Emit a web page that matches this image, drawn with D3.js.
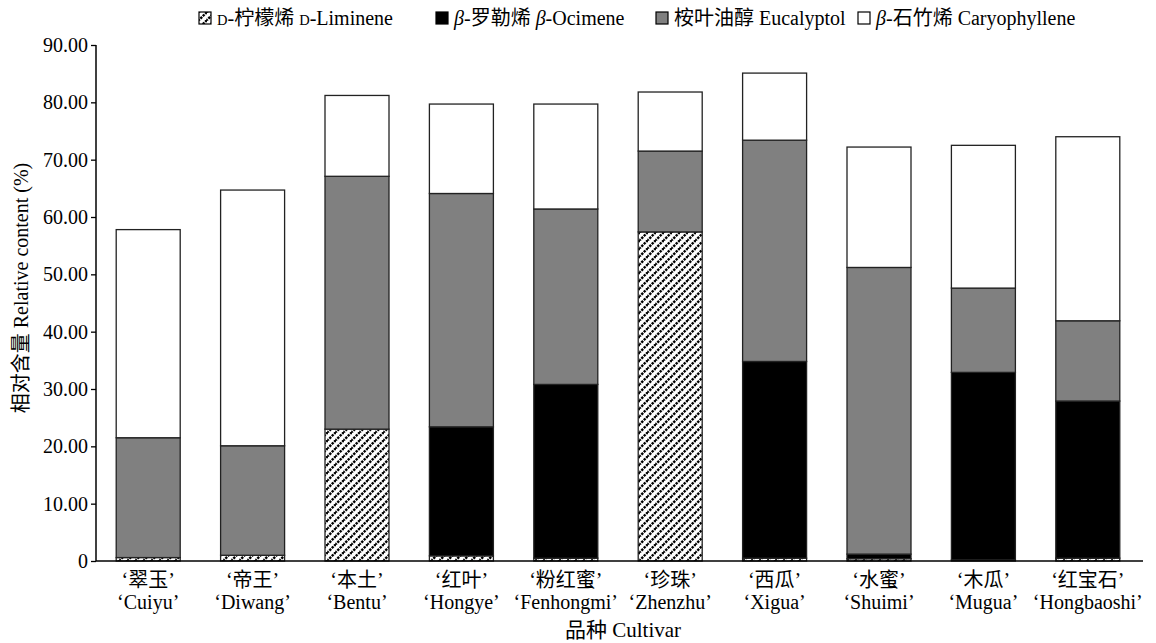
<!DOCTYPE html>
<html>
<head>
<meta charset="utf-8">
<script src="https://cdn.jsdelivr.net/npm/d3@7"></script>
<style>
  body { margin: 0; background: #fff; }
  text { font-family: "Liberation Serif", "Noto Sans CJK SC", serif; fill: #000; }
</style>
</head>
<body>
<div id="chart"></div>
<script>
var cultivarsZh = ['翠玉', '帝王', '本土', '红叶', '粉红蜜', '珍珠', '西瓜', '水蜜', '木瓜', '红宝石'];
var cultivarsEn = ['Cuiyu', 'Diwang', 'Bentu', 'Hongye', 'Fenhongmi', 'Zhenzhu', 'Xigua', 'Shuimi', 'Mugua', 'Hongbaoshi'];

// relative content (%) of each compound, stacked bottom to top
var limonene      = [0.6, 1.0, 23.0, 0.9, 0.5, 57.4, 0.5, 0.4, 0.2, 0.5];
var ocimene       = [0.0, 0.0, 0.0, 22.5, 30.3, 0.0, 34.3, 0.8, 32.7, 27.4];
var eucalyptol    = [20.9, 19.1, 44.1, 40.7, 30.6, 14.1, 38.6, 50.0, 14.7, 14.0];
var caryophyllene = [36.3, 44.6, 14.1, 15.6, 18.3, 10.3, 11.7, 21.0, 24.9, 32.1];

var yTicks = [0, 10, 20, 30, 40, 50, 60, 70, 80, 90];

var keys = ['limonene', 'ocimene', 'eucalyptol', 'caryophyllene'];
var rows = cultivarsEn.map(function (c, i) {
  return { name: c, limonene: limonene[i], ocimene: ocimene[i], eucalyptol: eucalyptol[i], caryophyllene: caryophyllene[i] };
});

var W = 1156, H = 643;
var plotL = 96, plotR = 1140, plotT = 45, plotB = 561;

var svg = d3.select('#chart').append('svg')
  .attr('width', W)
  .attr('height', H);

// hatch pattern for limonene
var defs = svg.append('defs');
var pat = defs.append('pattern')
  .attr('id', 'hatch')
  .attr('patternUnits', 'userSpaceOnUse')
  .attr('width', 8).attr('height', 8);
pat.append('rect').attr('width', 8).attr('height', 8).attr('fill', '#fff');
pat.append('path')
  .attr('d', 'M-1,9 L9,-1 M-5,5 L5,-5 M3,13 L13,3')
  .attr('stroke', '#000')
  .attr('stroke-width', 2.4)
  .attr('stroke-dasharray', '2.4,1');

var fills = {
  limonene: 'url(#hatch)',
  ocimene: '#000',
  eucalyptol: '#808080',
  caryophyllene: '#fff'
};

var x = d3.scaleBand()
  .domain(cultivarsEn)
  .range([plotL, plotR])
  .paddingInner(0.387)
  .paddingOuter(0.1935);

var y = d3.scaleLinear()
  .domain([0, 90])
  .range([plotB, plotT]);

var stacked = d3.stack().keys(keys)(rows);

svg.append('g').selectAll('g')
  .data(stacked)
  .enter().append('g')
  .attr('fill', function (d) { return fills[d.key]; })
  .selectAll('rect')
  .data(function (d) { return d; })
  .enter().append('rect')
  .filter(function (d) { return d[1] - d[0] > 0; })
  .attr('x', function (d) { return x(d.data.name); })
  .attr('y', function (d) { return y(d[1]); })
  .attr('width', x.bandwidth())
  .attr('height', function (d) { return y(d[0]) - y(d[1]); })
  .attr('stroke', '#222')
  .attr('stroke-width', 1.3);

// y axis
var yAxis = d3.axisLeft(y)
  .tickValues(yTicks)
  .tickSize(5)
  .tickPadding(3)
  .tickFormat(function (d) { return d === 0 ? '0' : d3.format('.2f')(d); });

var gy = svg.append('g')
  .attr('transform', 'translate(' + plotL + ',0)')
  .call(yAxis);
gy.select('.domain').attr('stroke', '#000').attr('stroke-width', 1.5).attr('d', 'M0,' + plotT + 'V' + plotB);
gy.selectAll('.tick line').attr('stroke', '#000').attr('stroke-width', 1.3);
gy.selectAll('.tick text')
  .attr('font-family', '"Liberation Serif", serif')
  .attr('font-size', 20);

// x axis baseline
svg.append('line')
  .attr('x1', plotL).attr('x2', 1143)
  .attr('y1', plotB).attr('y2', plotB)
  .attr('stroke', '#000').attr('stroke-width', 1.5);

// category labels
var cat = svg.append('g').selectAll('text')
  .data(cultivarsEn)
  .enter().append('text')
  .attr('text-anchor', 'middle')
  .attr('font-size', 20);
cat.append('tspan')
  .attr('x', function (d) { return x(d) + x.bandwidth() / 2; })
  .attr('y', 587)
  .text(function (d, i) { return '‘' + cultivarsZh[i] + '’'; });
cat.append('tspan')
  .attr('x', function (d) { return x(d) + x.bandwidth() / 2; })
  .attr('y', 609)
  .text(function (d) { return '‘' + d + '’'; });

// axis titles
svg.append('text')
  .attr('x', 623).attr('y', 637)
  .attr('text-anchor', 'middle')
  .attr('font-size', 21)
  .text('品种 Cultivar');

svg.append('text')
  .attr('transform', 'translate(28,' + 288 + ') rotate(-90)')
  .attr('text-anchor', 'middle')
  .attr('font-size', 20)
  .text('相对含量 Relative content (%)');

// legend
var legendItems = [
  { key: 'limonene', x: 199, parts: [['D', 'sc'], ['-柠檬烯 ', ''], ['D', 'sc'], ['-Liminene', '']] },
  { key: 'ocimene', x: 436, parts: [['β', 'it'], ['-罗勒烯 ', ''], ['β', 'it'], ['-Ocimene', '']] },
  { key: 'eucalyptol', x: 656, parts: [['桉叶油醇 Eucalyptol', '']] },
  { key: 'caryophyllene', x: 858, parts: [['β', 'it'], ['-石竹烯 Caryophyllene', '']] }
];

var lg = svg.append('g').selectAll('g')
  .data(legendItems)
  .enter().append('g')
  .attr('transform', function (d) { return 'translate(' + d.x + ',12)'; });
lg.append('rect')
  .attr('width', 12).attr('height', 12)
  .attr('fill', function (d) { return fills[d.key]; })
  .attr('stroke', '#000').attr('stroke-width', 1.2);
var lt = lg.append('text')
  .attr('x', 18).attr('y', 13)
  .attr('font-size', 20);
lt.selectAll('tspan')
  .data(function (d) { return d.parts; })
  .enter().append('tspan')
  .attr('font-size', function (p) { return p[1] === 'sc' ? 14.5 : 20; })
  .attr('font-style', function (p) { return p[1] === 'it' ? 'italic' : 'normal'; })
  .text(function (p) { return p[0]; });
</script>
</body>
</html>
